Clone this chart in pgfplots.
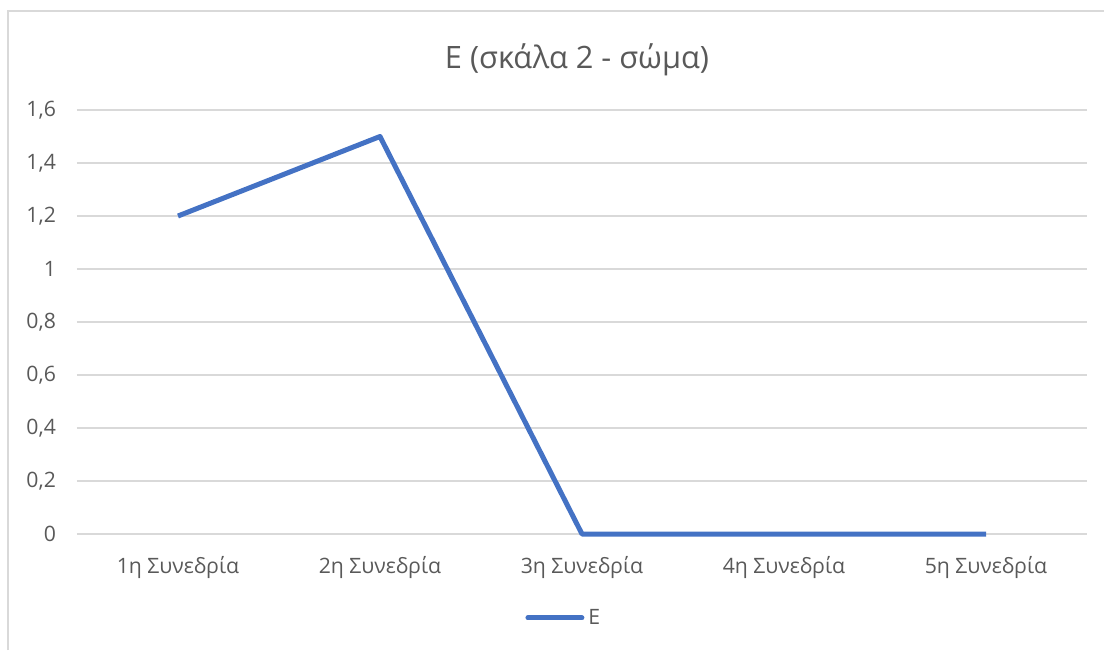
\documentclass[border=0pt]{standalone}
\usepackage{pgfplots}
\pgfplotsset{compat=1.18}
\usepackage{fontspec}
\setmainfont{Open Sans}
\definecolor{linecol}{HTML}{4472C4}
\definecolor{gridcol}{HTML}{D9D9D9}
\definecolor{textcol}{HTML}{595959}
\begin{document}
\begin{tikzpicture}[x=0.5pt,y=0.5pt]
\useasboundingbox (0,0) rectangle (1104,650);
% chart frame (left and top edges)
\draw[gridcol, line width=1pt] (8,0) -- (8,639) -- (1104,639);
% title
\node[text=textcol, font=\fontsize{15.4}{18}\selectfont] at (577,590) {Ε (σκάλα 2 - σώμα)};
\begin{axis}[
  at={(38.5pt,58pt)}, anchor=south west,
  scale only axis, width=505pt, height=212pt,
  xmin=0.5, xmax=5.5, ymin=0, ymax=1.6,
  xtick={1,2,3,4,5},
  xticklabels={1η Συνεδρία,2η Συνεδρία,3η Συνεδρία,4η Συνεδρία,5η Συνεδρία},
  ytick={0,0.2,0.4,0.6,0.8,1,1.2,1.4,1.6},
  /pgf/number format/use comma,
  /pgf/number format/assume math mode=true,
  axis line style={draw=none},
  major tick length=0pt,
  ymajorgrids, grid style={gridcol, line width=0.75pt},
  ticklabel style={text=textcol, font=\fontsize{10.6}{12}\selectfont},
  yticklabel style={xshift=-7pt},
  xticklabel style={yshift=-7.5pt},
  legend style={at={(0.483,-0.198)}, anchor=center, draw=none, fill=none,
    text=textcol, font=\fontsize{10.6}{12}\selectfont},
  legend image code/.code={\draw[linecol, line width=2.5pt, line cap=round] (0pt,0pt) -- (27pt,0pt);},
  clip=false,
]
\addplot[linecol, line width=2.5pt, line join=round] coordinates {(1,1.2) (2,1.5) (3,0) (4,0) (5,0)};
\addlegendentry{Ε}
\end{axis}
\end{tikzpicture}
\end{document}
